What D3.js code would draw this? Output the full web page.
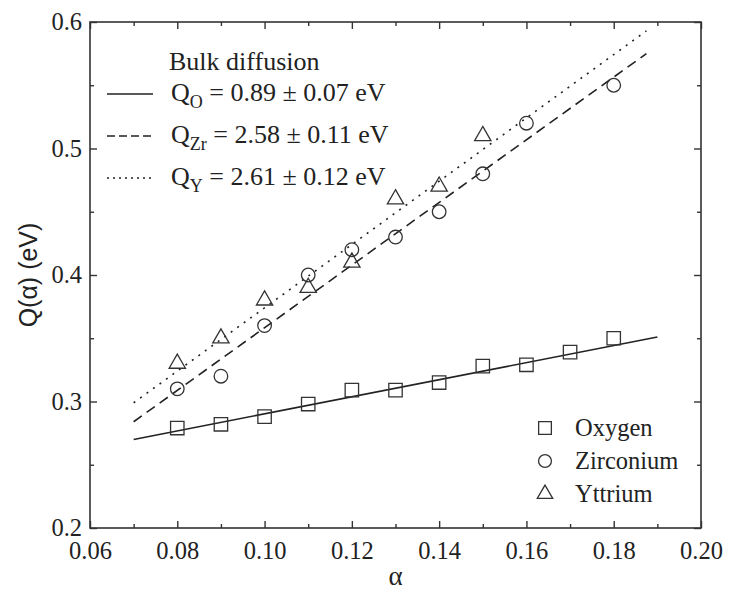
<html>
<head>
<style>
  body { margin: 0; background: #fff; }
</style>
</head>
<body>
<script src="https://d3js.org/d3.v7.min.js"></script>
<svg width="729" height="592"></svg>
<script type="text/javascript">
// data
var oxygenAlpha = [0.08, 0.09, 0.10, 0.11, 0.12, 0.13, 0.14, 0.15, 0.16, 0.17, 0.18];
var oxygenQ = [0.279, 0.282, 0.288, 0.298, 0.309, 0.309, 0.315, 0.328, 0.329, 0.339, 0.350];
var zrAlpha = [0.08, 0.09, 0.10, 0.11, 0.12, 0.13, 0.14, 0.15, 0.16, 0.18];
var zrQ = [0.31, 0.32, 0.36, 0.40, 0.42, 0.43, 0.45, 0.48, 0.52, 0.55];
var yAlpha = [0.08, 0.09, 0.10, 0.11, 0.12, 0.13, 0.14, 0.15];
var yQ = [0.33, 0.35, 0.38, 0.39, 0.41, 0.46, 0.47, 0.51];

// fitted lines (end points)
var oxygenFit = [[0.07, 0.270], [0.19, 0.351]];
var zrFit = [[0.07, 0.284], [0.1875, 0.575]];
var yFit = [[0.07, 0.299], [0.1875, 0.593]];

var xMajor = [0.06, 0.08, 0.10, 0.12, 0.14, 0.16, 0.18, 0.20];
var xMinor = [0.07, 0.09, 0.11, 0.13, 0.15, 0.17, 0.19];
var yMajor = [0.2, 0.3, 0.4, 0.5, 0.6];
var yMinor = [0.25, 0.35, 0.45, 0.55];

var fitLabels = [
    {name: "Q", sub: "O", rest: " = 0.89 \u00b1 0.07 eV", dash: null},
    {name: "Q", sub: "Zr", rest: " = 2.58 \u00b1 0.11 eV", dash: "8,4"},
    {name: "Q", sub: "Y", rest: " = 2.61 \u00b1 0.12 eV", dash: "2,4"}
];
var seriesNames = ["Oxygen", "Zirconium", "Yttrium"];

var serif = "'Liberation Serif', 'Times New Roman', serif";
var sans = "'Liberation Sans', Arial, sans-serif";

var margin = {top: 22, right: 28, bottom: 64, left: 90},
    width = 729 - margin.left - margin.right,
    height = 592 - margin.top - margin.bottom;

var svg = d3.select("svg")
    .append("g")
    .attr("transform", "translate(" + margin.left + "," + margin.top + ")");

var x = d3.scaleLinear().domain([0.06, 0.20]).range([0, width]);
var y = d3.scaleLinear().domain([0.2, 0.6]).range([height, 0]);

// axes, ticks pointing inward on all four sides
function styleAxis(g) {
    g.select(".domain").remove();
    g.selectAll("line").attr("stroke", "#333").attr("stroke-width", 1.4);
    g.selectAll("text")
        .style("font-family", serif)
        .style("font-size", "24.5px")
        .attr("fill", "#222");
}

svg.append("g").attr("transform", "translate(0," + height + ")")
    .call(d3.axisBottom(x).tickValues(xMajor).tickSize(-7).tickPadding(14).tickFormat(d3.format(".2f")))
    .call(styleAxis);
svg.append("g").attr("transform", "translate(0," + height + ")")
    .call(d3.axisBottom(x).tickValues(xMinor).tickSize(-4).tickFormat(""))
    .call(styleAxis);
svg.append("g")
    .call(d3.axisTop(x).tickValues(xMajor).tickSize(-7).tickFormat(""))
    .call(styleAxis);
svg.append("g")
    .call(d3.axisTop(x).tickValues(xMinor).tickSize(-4).tickFormat(""))
    .call(styleAxis);

svg.append("g")
    .call(d3.axisLeft(y).tickValues(yMajor).tickSize(-7).tickPadding(8).tickFormat(d3.format(".1f")))
    .call(styleAxis);
svg.append("g")
    .call(d3.axisLeft(y).tickValues(yMinor).tickSize(-4).tickFormat(""))
    .call(styleAxis);
svg.append("g").attr("transform", "translate(" + width + ",0)")
    .call(d3.axisRight(y).tickValues(yMajor).tickSize(-7).tickFormat(""))
    .call(styleAxis);
svg.append("g").attr("transform", "translate(" + width + ",0)")
    .call(d3.axisRight(y).tickValues(yMinor).tickSize(-4).tickFormat(""))
    .call(styleAxis);

// frame
svg.append("rect")
    .attr("width", width).attr("height", height)
    .attr("fill", "none").attr("stroke", "#333").attr("stroke-width", 1.6);

// axis titles
svg.append("text")
    .attr("transform", "translate(" + (28 - margin.left) + "," + (y(0.4)) + ") rotate(-90)")
    .attr("text-anchor", "middle")
    .attr("dy", "0.35em")
    .style("font-family", sans)
    .style("font-size", "25px")
    .attr("fill", "#222")
    .text("Q(\u03b1) (eV)");

svg.append("text")
    .attr("x", x(0.13))
    .attr("y", height + 57)
    .attr("text-anchor", "middle")
    .style("font-family", serif)
    .style("font-size", "27px")
    .attr("fill", "#222")
    .text("\u03b1");

// fit lines
var line = d3.line().x(function(d) { return x(d[0]); }).y(function(d) { return y(d[1]); });
var fits = [oxygenFit, zrFit, yFit];
svg.selectAll(".fit").data(fits).enter()
    .append("path")
    .attr("class", "fit")
    .attr("d", line)
    .attr("fill", "none")
    .attr("stroke", "#222")
    .attr("stroke-width", 1.6)
    .attr("stroke-dasharray", function(d, i) { return i == 1 ? "10,6" : (i == 2 ? "2,6" : null); });

// markers
function drawSymbol(sel, type, size) {
    sel.append("path")
        .attr("d", d3.symbol().type(type).size(size))
        .attr("fill", "none")
        .attr("stroke", "#333")
        .attr("stroke-width", 1.3);
}
var symTypes = [d3.symbolSquare, d3.symbolCircle, d3.symbolTriangle];
var symSizes = [180, 145, 115];
var seriesAlpha = [oxygenAlpha, zrAlpha, yAlpha];
var seriesQ = [oxygenQ, zrQ, yQ];

seriesAlpha.forEach(function(alphas, s) {
    svg.append("g").selectAll("g").data(alphas).enter()
        .append("g")
        .attr("transform", function(d, i) { return "translate(" + x(d) + "," + y(seriesQ[s][i]) + ")"; })
        .each(function() { drawSymbol(d3.select(this), symTypes[s], symSizes[s]); });
});

// legend: fits, top left
var fitLegend = svg.append("g");
fitLegend.append("text")
    .attr("x", 79).attr("y", 48)
    .style("font-family", serif)
    .style("font-size", "26px")
    .attr("fill", "#222")
    .text("Bulk diffusion");
fitLabels.forEach(function(d, i) {
    var yy = 72 + i * 42;
    fitLegend.append("line")
        .attr("x1", 17).attr("x2", 63)
        .attr("y1", yy).attr("y2", yy)
        .attr("stroke", "#222").attr("stroke-width", 1.6)
        .attr("stroke-dasharray", d.dash);
    var t = fitLegend.append("text")
        .attr("x", 81).attr("y", yy + 7)
        .style("font-family", serif)
        .style("font-size", "26px")
        .attr("fill", "#222");
    t.append("tspan").text(d.name);
    t.append("tspan").style("font-size", "18px").attr("dy", 7).text(d.sub);
    t.append("tspan").attr("dy", -7).text(d.rest);
});

// legend: symbols, bottom right
var symLegend = svg.append("g").attr("transform", "translate(455,406)");
seriesNames.forEach(function(name, i) {
    var g = symLegend.append("g").attr("transform", "translate(0," + (i * 33) + ")");
    drawSymbol(g, symTypes[i], symSizes[i] * 0.9);
    g.append("text")
        .attr("x", 30).attr("y", 8)
        .style("font-family", serif)
        .style("font-size", "24.5px")
        .attr("fill", "#222")
        .text(name);
});
</script>
</body>
</html>
